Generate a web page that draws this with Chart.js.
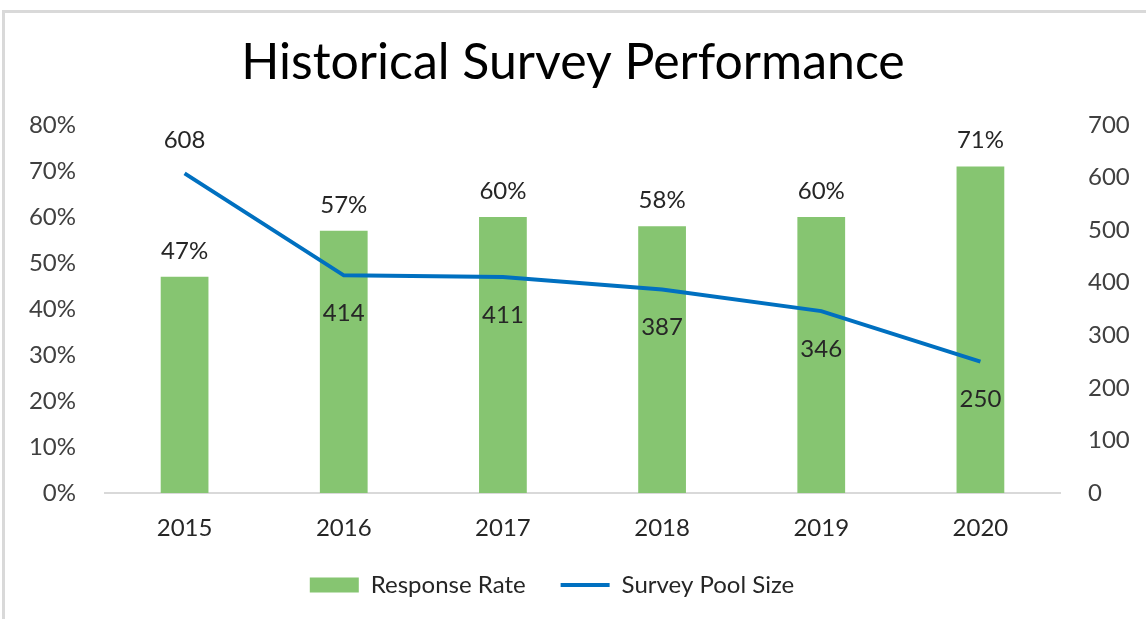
<!DOCTYPE html>
<html>
<head>
<meta charset="utf-8">
<script src="https://cdn.jsdelivr.net/npm/chart.js@4.4.1/dist/chart.umd.min.js"></script>
<style>
  html, body { margin: 0; padding: 0; background: #fff; }
  #frame {
    position: absolute; left: 2px; top: 10px; width: 1160px; height: 640px;
    border-left: 3px solid #d9d9d9; border-top: 3px solid #d9d9d9;
  }
  #wrap { position: absolute; left: 0; top: 0; width: 1146px; height: 619px; }
</style>
</head>
<body>
<div id="frame"></div>
<div id="wrap"><canvas id="perf"></canvas></div>
<script>
// Data
const years = ["2015", "2016", "2017", "2018", "2019", "2020"];
const responseRate = [47, 57, 60, 58, 60, 71];
const poolSize = [608, 414, 411, 387, 346, 250];
const rateTicks = [0, 10, 20, 30, 40, 50, 60, 70, 80];
const poolTicks = [0, 100, 200, 300, 400, 500, 600, 700];

const fontFamily = "Lato, 'Open Sans', sans-serif";
const textColor = "#262626";

// draw the value labels (no datalabels plugin available)
const valueLabels = {
  id: "valueLabels",
  afterDatasetsDraw(chart) {
    const ctx = chart.ctx;
    ctx.save();
    ctx.font = "24px " + fontFamily;
    ctx.fillStyle = textColor;
    ctx.textAlign = "center";
    ctx.textBaseline = "middle";
    chart.data.datasets.forEach((ds, i) => {
      const meta = chart.getDatasetMeta(i);
      meta.data.forEach((el, j) => {
        const v = ds.data[j];
        if (ds.type === "bar") {
          ctx.fillText(v + "%", el.x, el.y - 26);
        } else {
          const dy = j === 0 ? -33 : 38;
          ctx.fillText(String(v), el.x, el.y + dy);
        }
      });
    });
    ctx.restore();
  },
};

// legend sits a bit left of centre in the original
const legendShift = {
  id: "legendShift",
  afterLayout(chart) {
    chart.legend.left -= 42;
  },
};

new Chart(document.getElementById("perf"), {
  data: {
    labels: years,
    datasets: [
      {
        type: "bar",
        label: "Response Rate",
        data: responseRate,
        yAxisID: "yRate",
        backgroundColor: "#86c571",
        borderColor: "#86c571",
        borderWidth: 0,
        barPercentage: 0.3,
        categoryPercentage: 1,
        order: 1,
      },
      {
        type: "line",
        label: "Survey Pool Size",
        data: poolSize,
        yAxisID: "yPool",
        borderColor: "#0070c0",
        backgroundColor: "#0070c0",
        borderWidth: 4,
        pointRadius: 0,
        tension: 0,
        order: 0,
      },
    ],
  },
  options: {
    responsive: true,
    maintainAspectRatio: false,
    animation: false,
    layout: { padding: { left: 0, right: 0, top: 0, bottom: 12 } },
    plugins: {
      title: {
        display: true,
        text: "Historical Survey Performance",
        color: "#000",
        font: { family: fontFamily, size: 50, weight: "normal" },
        padding: { top: 33, bottom: 32 },
      },
      legend: {
        position: "bottom",
        labels: {
          color: textColor,
          font: { family: fontFamily, size: 24 },
          usePointStyle: true,
          pointStyleWidth: 49,
          boxWidth: 49,
          boxHeight: 15,
          padding: 35,
          sort: (a, b) => a.datasetIndex - b.datasetIndex,
          generateLabels(chart) {
            const items = Chart.defaults.plugins.legend.labels.generateLabels(chart);
            items.forEach((it) => {
              it.pointStyle = it.datasetIndex === 0 ? "rect" : "line";
            });
            return items;
          },
        },
      },
      tooltip: { enabled: false },
    },
    scales: {
      x: {
        afterFit: (s) => { s.height = 45; },
        grid: { display: false, drawTicks: false },
        border: { color: "#d9d9d9", width: 2 },
        ticks: { color: textColor, font: { family: fontFamily, size: 24 }, padding: 21 },
      },
      yRate: {
        position: "left",
        min: 0,
        max: 80,
        afterBuildTicks: (s) => { s.ticks = rateTicks.map((v) => ({ value: v })); },
        afterFit: (s) => { s.width = 105; },
        grid: { display: false, drawTicks: false },
        border: { display: false },
        ticks: {
          color: "#404040",
          font: { family: fontFamily, size: 24 },
          padding: 29,
          callback: (v) => v + "%",
        },
      },
      yPool: {
        position: "right",
        min: 0,
        max: 700,
        afterBuildTicks: (s) => { s.ticks = poolTicks.map((v) => ({ value: v })); },
        afterFit: (s) => { s.width = 86; },
        grid: { display: false, drawTicks: false },
        border: { display: false },
        ticks: {
          color: "#404040",
          font: { family: fontFamily, size: 24 },
          padding: 28,
        },
      },
    },
  },
  plugins: [valueLabels, legendShift],
});
</script>
</body>
</html>
